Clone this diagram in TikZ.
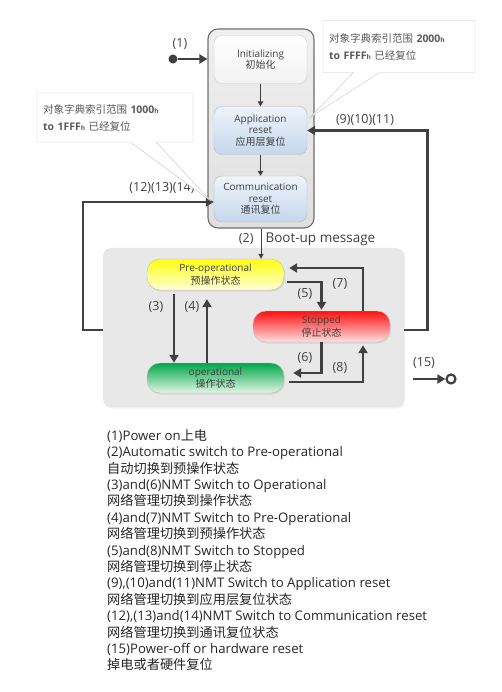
\documentclass[tikz,border=0pt]{standalone}
\usepackage{fontspec}
\setmainfont{Open Sans}
\newfontfamily\cjk{Noto Sans CJK SC}
\usetikzlibrary{arrows.meta,shapes.callouts,shadows}

\definecolor{arrowgray}{HTML}{404040}
\definecolor{framegray}{HTML}{6E6E6E}
\definecolor{notegray}{HTML}{5A5A5A}
\definecolor{bluetop}{HTML}{EEF4FA}
\definecolor{bluebot}{HTML}{C4D7EC}
\definecolor{yellowtop}{HTML}{FFFF10}
\definecolor{yellowbot}{HTML}{FFFFD8}
\definecolor{redtop}{HTML}{FF1010}
\definecolor{redbot}{HTML}{FFE0E0}
\definecolor{greentop}{HTML}{00A64A}
\definecolor{greenbot}{HTML}{E2F6E4}

\tikzset{
	resetbox/.style={rounded corners=8pt, draw=gray!55, top color=bluetop, bottom color=bluebot,
		minimum width=93pt, minimum height=48pt, align=center, text=arrowgray,
		font=\fontsize{10}{11.5}\selectfont},
	statebox/.style={rounded corners=13pt, draw=gray!50, minimum width=137pt, minimum height=31pt,
		align=center, text=arrowgray, font=\fontsize{10}{12.5}\selectfont,
		drop shadow={opacity=.18, shadow xshift=1pt, shadow yshift=-1.5pt}},
	bigflow/.style={draw=arrowgray, line width=2.6pt, -{Triangle[length=8pt,width=9pt]}},
	thinflow/.style={draw=arrowgray, line width=1.3pt, -{Triangle[length=5pt,width=5.5pt]}},
	num/.style={font=\fontsize{12.5}{14}\selectfont, text=arrowgray},
	note/.style={rectangle callout, draw=gray!45, fill=white, text=notegray, align=left,
		inner sep=6pt, callout pointer width=26pt, font=\fontsize{10.5}{17}\selectfont}
}

\newcommand{\hsub}{{\fontsize{6.5}{6.5}\selectfont h}}

\begin{document}
\begin{tikzpicture}[x=1pt, y=-1pt]
	\useasboundingbox (0,0) rectangle (501,692);

	% reset group
	\node[rounded corners=10pt, draw=framegray, line width=1.1pt, top color=gray!12, bottom color=gray!25,
		minimum width=106pt, minimum height=199pt] (upperbox) at (261,128.5) {};
	\node[resetbox, top color=white, bottom color=gray!10, draw=gray!40] (init) at (260.5,59.5)
		{Initializing\\{\cjk 初始化}};
	\node[resetbox] (appreset) at (260.5,130.5) {Application\\reset\\{\cjk 应用层复位}};
	\node[resetbox, minimum height=46pt] (commreset) at (260.5,199) {Communication\\reset\\{\cjk 通讯复位}};

	\draw[thinflow] (init) -- (appreset);
	\draw[thinflow] (appreset) -- (commreset);

	% operating states
	\node[rounded corners=8pt, fill=gray!18, minimum width=301pt, minimum height=159pt,
		drop shadow={opacity=.12, shadow xshift=1pt, shadow yshift=-1.5pt}] (lowerbox) at (253.5,327.5) {};
	\node[statebox, top color=yellowtop, bottom color=yellowbot] (preop) at (215.5,274.5)
		{Pre-operational\\{\cjk 预操作状态}};
	\node[statebox, top color=redtop, bottom color=redbot] (stopped) at (321.5,326.5)
		{Stopped\\{\cjk 停止状态}};
	\node[statebox, top color=greentop, bottom color=greenbot, minimum height=30pt] (oper) at (215.5,378)
		{operational\\{\cjk 操作状态}};

	% power on / off
	\node[circle, fill=arrowgray, inner sep=0pt, minimum size=9pt] (pwron) at (173,59) {};
	\draw[bigflow] (pwron) -- (upperbox.west |- pwron);
	\node[num] (lbl1) at (180,44) {(1)};

	\coordinate (offstart) at (413,379);
	\node[circle, draw=arrowgray, line width=2.2pt, inner sep=0pt, minimum size=9pt] (pwroff) at (451,379) {};
	\draw[bigflow] (offstart) -- (pwroff.west);
	\node[num] (lbl15) at (424,363) {(15)};

	% boot-up
	\draw[draw=arrowgray, line width=.9pt, -{Triangle[length=5pt,width=5pt]}] (upperbox.south) -- (upperbox.south |- preop.north);
	\node[num, anchor=east] (lbl2) at (257,239) {(2)};
	\node[anchor=west, text=arrowgray, font=\fontsize{13.5}{15}\selectfont] (bootmsg) at (262,239) {Boot-up message};

	% state transitions
	\draw[bigflow] ([xshift=-41.5pt,yshift=-4pt]preop.south) -- ([xshift=-41.5pt]oper.north);
	\draw[bigflow] ([xshift=-8.5pt]oper.north) -- ([xshift=-8.5pt,yshift=-9pt]preop.south);
	\draw[bigflow] ([xshift=3pt,yshift=-7.5pt]preop.east) -| ([yshift=1pt]stopped.north);
	\draw[bigflow] ([xshift=41.5pt]stopped.north) |- ([xshift=5pt,yshift=6.5pt]preop.east);
	\draw[bigflow] (stopped.south) |- ([xshift=9pt,yshift=5pt]oper.east);
	\draw[bigflow] ([xshift=5pt,yshift=-4pt]oper.east) -| ([xshift=41.5pt,yshift=-3pt]stopped.south);
	\node[num] (lbl3) at (156,307) {(3)};
	\node[num] (lbl4) at (192,307) {(4)};
	\node[num] (lbl5) at (305,294) {(5)};
	\node[num] (lbl7) at (340,284) {(7)};
	\node[num] (lbl6) at (305,358) {(6)};
	\node[num] (lbl8) at (340,368) {(8)};

	% back to reset
	\draw[bigflow] ([yshift=-2.5pt]lowerbox.west) -- ++(-20,0) |- ([yshift=-3pt]commreset.west);
	\node[num] (lbl12) at (162,188) {(12)(13)(14)};
	\draw[bigflow] ([yshift=-2.5pt]lowerbox.east) -- ++(23,0) |- (appreset.east);
	\node[num] (lbl9) at (365,120) {(9)(10)(11)};

	% notes
	\node[note, text width=144pt, minimum height=49pt,
		callout absolute pointer={([xshift=-3pt,yshift=-2pt]commreset.west)}] (noteleft) at (115,117.5)
		{{\cjk 对象字典索引范围} \textbf{1000\hsub}\\\textbf{to 1FFF\hsub} {\cjk 已经复位}};
	\node[note, text width=140pt, minimum height=52pt,
		callout absolute pointer={([xshift=3pt,yshift=-11pt]appreset.north east)}] (noteright) at (399,46.5)
		{{\cjk 对象字典索引范围} \textbf{2000\hsub}\\\textbf{to FFFF\hsub} {\cjk 已经复位}};

	% legend
	\node[anchor=north west, align=left, text=black!85, inner sep=0pt,
		font=\fontsize{13.2}{16.4}\selectfont] (legend) at (107,429)
		{(1)Power on{\cjk 上电}\\
		(2)Automatic switch to Pre-operational\\
		{\cjk 自动切换到预操作状态}\\
		(3)and(6)NMT Switch to Operational\\
		{\cjk 网络管理切换到操作状态}\\
		(4)and(7)NMT Switch to Pre-Operational\\
		{\cjk 网络管理切换到预操作状态}\\
		(5)and(8)NMT Switch to Stopped\\
		{\cjk 网络管理切换到停止状态}\\
		(9),(10)and(11)NMT Switch to Application reset\\
		{\cjk 网络管理切换到应用层复位状态}\\
		(12),(13)and(14)NMT Switch to Communication reset\\
		{\cjk 网络管理切换到通讯复位状态}\\
		(15)Power-off or hardware reset\\
		{\cjk 掉电或者硬件复位}};
\end{tikzpicture}
\end{document}
